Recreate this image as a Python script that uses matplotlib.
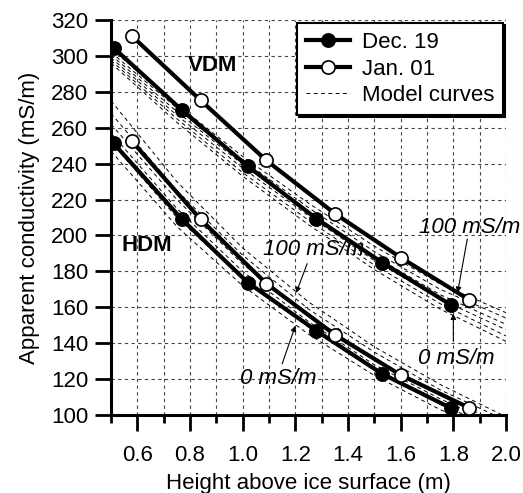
'''
plot.py - apparent conductivity vs. height above ice surface (VDM / HDM)
'''

import matplotlib
matplotlib.use('Agg')
import matplotlib.pyplot as plt
import numpy as np

plt.rcParams['font.family'] = ['Liberation Sans', 'DejaVu Sans']

# measured profiles
dec_height = [0.51, 0.77, 1.02, 1.28, 1.53, 1.79]
jan_height = [0.58, 0.84, 1.09, 1.35, 1.60, 1.86]

dec_vdm = [304.5, 269.7, 238.5, 209.4, 184.9, 161.4]
jan_vdm = [311.0, 275.3, 241.8, 212.2, 187.7, 164.2]
dec_hdm = [251.3, 208.9, 173.7, 146.9, 122.9, 103.9]
jan_hdm = [252.4, 209.0, 173.2, 144.7, 122.3, 104.0]

# model curves (0 ... 100 mS/m), read at these heights
model_height = [0.5, 0.75, 1.0, 1.25, 1.5, 1.75, 2.0]

model_vdm = [
    [296.0, 263.0, 233.0, 206.0, 181.0, 159.0, 141.0],
    [297.5, 265.0, 235.0, 208.5, 183.5, 162.0, 144.0],
    [299.0, 267.0, 237.5, 211.0, 186.0, 164.5, 147.5],
    [300.5, 269.0, 239.5, 213.0, 188.5, 167.0, 150.5],
    [302.0, 271.0, 242.0, 215.5, 191.0, 170.0, 154.0],
    [304.0, 273.0, 244.0, 218.0, 194.0, 173.0, 157.0],
]
model_hdm = [
    [247.0, 205.0, 172.0, 145.0, 122.0, 103.0, 87.0],
    [252.0, 210.0, 176.0, 149.0, 125.0, 106.0, 90.0],
    [257.0, 215.0, 180.0, 152.0, 128.0, 109.0, 92.0],
    [262.0, 220.0, 184.0, 156.0, 131.0, 111.0, 94.0],
    [268.0, 225.0, 189.0, 159.0, 135.0, 114.0, 97.0],
    [275.0, 230.0, 193.0, 163.0, 138.0, 117.0, 99.0],
]

x_ticks = [0.6, 0.8, 1.0, 1.2, 1.4, 1.6, 1.8, 2.0]
x_minor = [0.5, 0.7, 0.9, 1.1, 1.3, 1.5, 1.7, 1.9]
y_ticks = list(range(100, 321, 20))

# (label, text position, arrow tail, arrow head)
notes = [
    ('100 mS/m', (1.861, 204.4), (1.853, 198.0), (1.816, 168.1)),
    ('0 mS/m',   (1.812, 131.3), (1.800, 141.3), (1.800, 156.4)),
    ('100 mS/m', (1.268, 192.1), (1.245, 184.3), (1.203, 168.0)),
    ('0 mS/m',   (1.135, 120.1), (1.150, 128.5), (1.200, 149.7)),
]

FS = 16

fig = plt.figure(figsize=(5.23, 4.93), dpi=100)
ax = fig.add_axes([111/523, 1 - 415/493, 395/523, 395/493])

# grid first so everything sits on top of it
ax.set_axisbelow(True)

# model curves
model_style = dict(color='black', lw=0.7, linestyle=(0, (4, 3.5)), zorder=2)
for curve in model_vdm:
    ax.plot(model_height, curve, **model_style)
for curve in model_hdm:
    ax.plot(model_height, curve, **model_style)

# measured data
dec_style = dict(color='black', lw=3.0, marker='o', ms=9.5, mfc='black', mec='black', mew=1.2, zorder=4)
jan_style = dict(color='black', lw=3.0, marker='o', ms=9.5, mfc='white', mec='black', mew=1.2, zorder=4)

ax.plot(dec_height, dec_vdm, label='Dec. 19', **dec_style)
ax.plot(jan_height, jan_vdm, label='Jan. 01', **jan_style)
ax.plot(dec_height, dec_hdm, **dec_style)
ax.plot(jan_height, jan_hdm, **jan_style)
ax.plot([], [], label='Model curves', **model_style)

ax.set_xlim(0.5, 2.0)
ax.set_ylim(100, 320)
ax.set_xticks(x_ticks)
ax.set_xticks(x_minor, minor=True)
ax.set_xticklabels(['{:.1f}'.format(v) for v in x_ticks])
ax.set_yticks(y_ticks)

ax.grid(True, which='both', axis='x', color='#444444', lw=0.8, linestyle=(0, (3, 3)))
ax.grid(True, which='major', axis='y', color='#444444', lw=0.8, linestyle=(0, (3, 3)))

for side in ['top', 'right']:
    ax.spines[side].set_visible(False)
for side in ['left', 'bottom']:
    ax.spines[side].set_linewidth(2.2)

ax.tick_params(which='major', direction='out', length=11.5, width=2.0, labelsize=FS)
ax.tick_params(which='minor', direction='out', length=6, width=2.0)
ax.tick_params(axis='x', which='major', pad=10)
ax.tick_params(axis='y', which='major', pad=5)
ax.tick_params(axis='y', which='minor', left=False)

ax.set_xlabel('Height above ice surface (m)', fontsize=FS, labelpad=5)
ax.set_ylabel('Apparent conductivity (mS/m)', fontsize=FS, labelpad=8)

# mode labels
ax.text(0.884, 294.9, 'VDM', fontsize=FS, fontweight='bold', ha='center', va='center')
ax.text(0.637, 194.4, 'HDM', fontsize=FS, fontweight='bold', ha='center', va='center')

for label, pos, tail, head in notes:
    ax.text(pos[0], pos[1], label, fontsize=FS, style='italic', ha='center', va='center', zorder=6)
    ax.annotate('', xy=head, xytext=tail,
                arrowprops=dict(arrowstyle='-|>', lw=0.8, color='black', mutation_scale=8,
                                shrinkA=0, shrinkB=0), zorder=6)

leg = ax.legend(loc='upper right', bbox_to_anchor=(0.992, 0.992), borderaxespad=0,
                fontsize=FS, handlelength=2.0, handletextpad=0.5, labelspacing=0.25,
                borderpad=0.4, fancybox=False, framealpha=1, edgecolor='black',
                shadow={'shade': 1.0, 'alpha': 1.0, 'ox': 1.5, 'oy': -1.5})
leg.get_frame().set_linewidth(1.5)
leg.set_zorder(10)

fig.savefig('out.png', dpi=100)
